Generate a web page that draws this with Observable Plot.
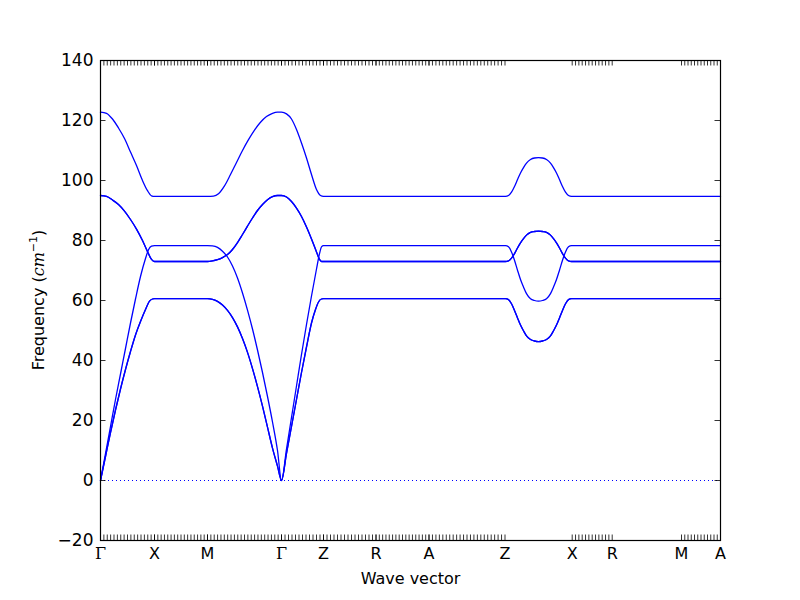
<!DOCTYPE html>
<html><head><meta charset="utf-8">
<script src="https://cdn.jsdelivr.net/npm/d3@7"></script>
<script src="https://cdn.jsdelivr.net/npm/@observablehq/plot@0.6"></script>
<style>body{margin:0;background:#fff;}</style>
</head><body><div id="chart"></div>
<script>
// High-symmetry points along the path (labels and path positions)
const kLabels = ["Γ","X","M","Γ","Z","R","A","Z","X","R","M","A"];
const kPos = [0, 54, 107, 181, 223, 275.5, 328.5, 404.5, 471.7, 511.7, 581, 620];
// q-point tick intervals per path segment (0 = no minor ticks)
const minorIntervals = [16, 16, 22, 12, 15, 16, 22, 0, 12, 0, 12];
const yTicks = [-20, 0, 20, 40, 60, 80, 100, 120, 140];
const yDomain = [-20, 140];

// Band 1 (highest optical branch)
const band1 = [
  [0,122.8],[6,122.4],[12,120.5],[18,117.5],[24,114],[30,109.5],[36,105],[42,100],[47,96.6],[51,94.9],[54,94.7],
  [107,94.7],[113,94.8],[118,95.6],[124,98.2],[130,102],[136,106],[142,110],[148,113.6],[154,116.8],[160,119.4],[166,121.3],[172,122.4],[177,122.8],[181,122.8],
  [186,122.2],[191,120.5],[196,117],[201,112.5],[206,107.5],[211,102],[216,97],[220,95],[223,94.7],
  [405,94.7],[408,95],[411,96.1],[414,98],[417,100.3],[420,102.5],[423,104.3],[426,105.8],[430,107],[434,107.5],[438,107.6],[442,107.5],[446,107],[450,105.8],[453,104.3],[456,102.5],[459,100.3],[462,98],[465,96.1],[468,95],[471,94.7],
  [620,94.7]
];
// Bands 2 & 3 (degenerate optical pair)
const opticalPair = [
  [0,95],[6,94.7],[12,93.5],[18,92],[24,89.8],[30,87],[36,83.8],[42,80],[47,76.3],[51,73.7],[54,73],
  [107,73],[112,73.2],[117,73.6],[122,74.3],[127,75.3],[132,77],[137,79.3],[142,82],[147,84.8],[152,87.5],[157,90],[162,92],[167,93.6],[172,94.6],[177,95],[181,95],
  [186,94.5],[191,93],[196,90.8],[201,88],[206,84.5],[211,80.5],[216,76.2],[219,73.7],[221,73],
  [405,73],[408,73.2],[411,74.1],[414,75.6],[417,77.5],[420,79.2],[423,80.6],[426,81.8],[430,82.7],[434,83],[438,83.1],[442,83],[446,82.7],[450,81.8],[453,80.6],[456,79.2],[459,77.5],[462,75.6],[465,74.1],[468,73.2],[471,73],
  [620,73]
];
// Band 4 (single branch, 78 plateau)
const band4 = [
  [0,0],[5,9],[10,18],[15,27],[20,35.5],[25,44],[30,52.5],[35,60.5],[40,68],[45,74],[48,76.9],[51,78.1],[54,78.3],
  [107,78.3],[112,78.2],[117,77.7],[122,76.4],[127,74.5],[132,71.5],[137,67.5],[142,62.5],[147,56.8],[152,50.5],[157,43.5],[162,36],[167,28],[172,19.5],[177,10],[181,0],
  [186,10.5],[191,21],[196,31.5],[201,42],[206,52],[211,61.5],[216,70.5],[219,75.6],[221,77.9],[223,78.3],
  [405,78.3],[408,77.9],[411,76.2],[414,73.4],[417,70.1],[420,67],[423,64.5],[426,62.3],[430,60.6],[434,60],[438,59.8],[442,60],[446,60.6],[450,62.3],[453,64.5],[456,67],[459,70.1],[462,73.4],[465,76.2],[468,77.9],[471,78.3],
  [620,78.3]
];
// Bands 5 & 6 (degenerate acoustic pair)
const acousticPair = [
  [0,0],[5,8],[10,16],[15,23.5],[20,30.5],[25,37],[30,43],[35,48.5],[40,53],[45,57],[49,59.8],[52,60.5],[54,60.6],
  [107,60.6],[112,60.4],[117,59.7],[122,58.5],[127,56.7],[132,54.3],[137,51.2],[142,47.3],[147,42.7],[152,37.3],[157,31.3],[162,24.8],[167,17.8],[172,10.8],[177,4.8],[181,0],
  [186,9],[191,18],[196,27],[201,36],[206,44.5],[211,52.5],[215,57],[218,59.5],[221,60.5],[223,60.6],
  [405,60.6],[408,60.3],[411,58.9],[414,56.7],[417,54.2],[420,51.8],[423,49.9],[426,48.2],[430,47],[434,46.5],[438,46.3],[442,46.5],[446,47],[450,48.2],[453,49.9],[456,51.8],[459,54.2],[462,56.7],[465,58.9],[468,60.3],[471,60.6],
  [620,60.6]
];

const bands = [
  {name: "b1", pts: band1},
  {name: "b2", pts: opticalPair},
  {name: "b3", pts: opticalPair},
  {name: "b4", pts: band4},
  {name: "b5", pts: acousticPair},
  {name: "b6", pts: acousticPair}
];
const rows = bands.flatMap(b => b.pts.map(([d, f]) => ({band: b.name, d, f})));

const xDomain = [kPos[0], kPos[kPos.length - 1]];
const minor = [];
minorIntervals.forEach((n, i) => {
  if (!n) return;
  const a = kPos[i], b = kPos[i + 1];
  for (let j = 0; j <= n; j++) minor.push(a + (b - a) * j / n);
});
const plotW = 620, plotH = 480;
const tickLenY = (yDomain[1] - yDomain[0]) * 5.5 / plotH;
const tickLenX = (xDomain[1] - xDomain[0]) * 5.5 / plotW;

const kRows = kPos.map((p, i) => ({p, label: kLabels[i]}));

const chart = Plot.plot({
  width: 800, height: 600,
  marginLeft: 100, marginRight: 80, marginTop: 60, marginBottom: 60,
  x: {domain: xDomain, axis: null},
  y: {domain: yDomain, axis: null},
  style: {fontFamily: "DejaVu Sans", fontSize: "16px", background: "white", color: "black"},
  marks: [
    Plot.ruleY([0], {stroke: "#0000ff", strokeDasharray: "1,3", strokeWidth: 1}),
    Plot.line(rows, {x: "d", y: "f", z: "band", stroke: "#0000ff", strokeWidth: 1.3, curve: "monotone-x"}),
    Plot.ruleX(minor, {x: d => d, y1: yDomain[0], y2: yDomain[0] + tickLenY, stroke: "black", strokeWidth: 0.8}),
    Plot.ruleX(minor, {x: d => d, y1: yDomain[1], y2: yDomain[1] - tickLenY, stroke: "black", strokeWidth: 0.8}),
    Plot.ruleY(yTicks, {y: d => d, x1: xDomain[0], x2: xDomain[0] + tickLenX, stroke: "black", strokeWidth: 0.8}),
    Plot.ruleY(yTicks, {y: d => d, x1: xDomain[1], x2: xDomain[1] - tickLenX, stroke: "black", strokeWidth: 0.8}),
    Plot.text(yTicks, {y: d => d, text: d => d < 0 ? "\u2212" + (-d) : String(d),
      frameAnchor: "left", textAnchor: "end", dx: -7, fontSize: 17}),
    Plot.text(kRows.filter(d => d.label !== "Γ"), {x: "p", text: "label", frameAnchor: "bottom", lineAnchor: "top", dy: 7, fontSize: 16}),
    Plot.text(kRows.filter(d => d.label === "Γ"), {x: "p", text: "label", frameAnchor: "bottom", lineAnchor: "top", dy: 7, fontSize: 16, fontFamily: "DejaVu Serif"}),
    Plot.text(["Wave vector"], {frameAnchor: "bottom", lineAnchor: "top", dy: 32, fontSize: 16}),
    Plot.frame({stroke: "black", strokeWidth: 1.2})
  ]
});

// y-axis label with math-style units
const svg = d3.select(chart);
const t = svg.append("text")
  .attr("transform", "translate(44,300) rotate(-90)")
  .attr("text-anchor", "middle")
  .attr("font-family", "DejaVu Sans")
  .attr("font-size", 16)
  .attr("fill", "black");
t.append("tspan").text("Frequency (");
t.append("tspan").attr("font-family", "DejaVu Serif").attr("font-style", "italic").text("cm");
t.append("tspan").attr("font-size", 11).attr("dy", -7).text("\u22121");
t.append("tspan").attr("dy", 7).text(")");

document.getElementById("chart").appendChild(chart);
</script>
</body></html>
